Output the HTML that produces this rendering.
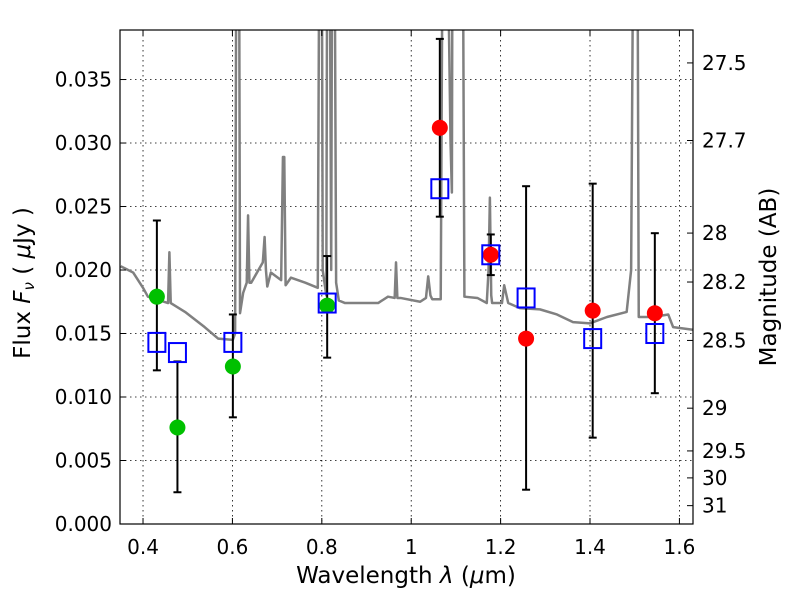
<!DOCTYPE html>
<html><head><meta charset="utf-8"><style>
html,body{margin:0;padding:0;background:#fff;}
svg text{font-family:"DejaVu Sans","Liberation Sans",sans-serif;}
</style></head><body>
<svg id="chart" width="800" height="600" viewBox="0 0 800 600" xmlns="http://www.w3.org/2000/svg">
<defs><clipPath id="plotclip"><rect x="120" y="30" width="573" height="494"/></clipPath></defs>
<g id="grid"></g>
<g id="spec" clip-path="url(#plotclip)"></g>
<g id="marks"></g>
<rect x="120" y="30" width="573" height="494" fill="none" stroke="#000" stroke-width="1.2"/>
<g id="axes"></g>
<text x="406" y="583" font-size="23" text-anchor="middle">Wavelength  <tspan font-style="italic">λ</tspan> (<tspan font-style="italic">μ</tspan>m)</text>
<text transform="translate(30,283) rotate(-90)" font-size="23" text-anchor="middle">Flux  <tspan font-style="italic">F</tspan><tspan font-style="italic" font-size="15" dy="4">ν</tspan><tspan dy="-4">  ( </tspan><tspan font-style="italic">μ</tspan>Jy )</text>
<text transform="translate(776,277) rotate(-90)" font-size="23" text-anchor="middle">Magnitude (AB)</text>
</svg>
<script>
const xTicks=[0.4,0.6,0.8,1.0,1.2,1.4,1.6];
const xTickLabels=["0.4","0.6","0.8","1","1.2","1.4","1.6"];
const yTicks=[0,0.005,0.010,0.015,0.020,0.025,0.030,0.035];
const yTickLabels=["0.000","0.005","0.010","0.015","0.020","0.025","0.030","0.035"];
const magTicks=[27.5,27.7,28,28.2,28.5,29,29.5,30,31];
const magTickLabels=["27.5","27.7","28","28.2","28.5","29","29.5","30","31"];
const specWave=[0.350,0.378,0.400,0.411,0.456,0.459,0.462,0.494,0.538,0.568,0.601,0.606,0.610,0.614,0.617,0.624,0.632,0.635,0.638,0.642,0.668,0.672,0.675,0.678,0.686,0.709,0.713,0.716,0.719,0.731,0.763,0.791,0.796,0.799,0.802,0.810,0.813,0.816,0.821,0.824,0.827,0.832,0.838,0.852,0.926,0.948,0.963,0.966,0.969,0.976,1.020,1.033,1.038,1.043,1.047,1.066,1.072,1.076,1.088,1.091,1.093,1.095,1.112,1.114,1.119,1.148,1.169,1.173,1.176,1.179,1.181,1.203,1.208,1.217,1.243,1.288,1.326,1.362,1.400,1.438,1.482,1.492,1.499,1.505,1.509,1.541,1.575,1.586,1.630];
const specFlux=[0.0203,0.0198,0.0186,0.0179,0.0174,0.0214,0.0174,0.0167,0.0155,0.0146,0.0145,0.0150,0.0600,0.0600,0.0166,0.0182,0.0190,0.0243,0.0190,0.0190,0.0206,0.0226,0.0200,0.0187,0.0198,0.0192,0.0289,0.0289,0.0188,0.0194,0.0190,0.0186,0.0600,0.0600,0.0200,0.0180,0.0600,0.0600,0.0200,0.0600,0.0600,0.0190,0.0176,0.0174,0.0174,0.0179,0.0178,0.0206,0.0178,0.0178,0.0175,0.0178,0.0195,0.0180,0.0177,0.0177,0.0600,0.0600,0.0300,0.0261,0.0600,0.0600,0.0600,0.0600,0.0179,0.0178,0.0174,0.0200,0.0257,0.0180,0.0174,0.0174,0.0188,0.0174,0.0170,0.0169,0.0165,0.0159,0.0158,0.0163,0.0167,0.0200,0.0600,0.0600,0.0163,0.0163,0.0165,0.0155,0.0153];
const obsWave=[0.431,0.477,0.601,0.812,1.064,1.178,1.257,1.406,1.545];
const obsFlux=[0.0179,0.0076,0.0124,0.0172,0.0312,0.0212,0.0146,0.0168,0.0166];
const obsErrLow=[0.0121,0.0025,0.0084,0.0131,0.0242,0.0196,0.0027,0.0068,0.0103];
const obsErrHigh=[0.0239,0.0128,0.0165,0.0211,0.0382,0.0228,0.0266,0.0268,0.0229];
const obsColor=["#00c000","#00c000","#00c000","#00c000","red","red","red","red","red"];
const modelFlux=[0.0143,0.0135,0.0143,0.0174,0.0264,0.0212,0.0178,0.0146,0.0150];

const NS="http://www.w3.org/2000/svg";
const X0=120,X1=693,Y0=30,Y1=524;
const xMin=0.3485,xMax=1.6304,yMin=0,yMax=0.0389;
function xs(v){return X0+(v-xMin)/(xMax-xMin)*(X1-X0);}
function ys(v){return Y1-(v-yMin)/(yMax-yMin)*(Y1-Y0);}
function mk(tag,attrs,parent){const e=document.createElementNS(NS,tag);for(const k in attrs)e.setAttribute(k,attrs[k]);parent.appendChild(e);return e;}
const grid=document.getElementById('grid'),axes=document.getElementById('axes');
xTicks.forEach((t,i)=>{const x=xs(t);
 const g=mk('line',{x1:x,x2:x,y1:Y0,y2:Y1,stroke:'#000','stroke-width':0.8,'stroke-dasharray':'1.5,3.5'},grid);
 
 mk('line',{x1:x,x2:x,y1:Y1,y2:Y1-6,stroke:'#000'},axes);mk('line',{x1:x,x2:x,y1:Y0,y2:Y0+6,stroke:'#000'},axes);
 const tx=mk('text',{x:x,y:554,'font-size':20,'text-anchor':'middle'},axes);tx.textContent=xTickLabels[i];
 });
yTicks.forEach((t,i)=>{const y=ys(t);
 if(i>0){const g=mk('line',{x1:X0,x2:X1,y1:y,y2:y,stroke:'#000','stroke-width':0.8,'stroke-dasharray':'1.5,3.5'},grid);
 }
 mk('line',{x1:X0,x2:X0+6,y1:y,y2:y,stroke:'#000'},axes);
 const tx=mk('text',{x:112,y:y+7,'font-size':20,'text-anchor':'end'},axes);tx.textContent=yTickLabels[i];
 });
magTicks.forEach((m,i)=>{const f=Math.pow(10,(23.9-m)/2.5);const y=ys(f);
 mk('line',{x1:X1,x2:X1-6,y1:y,y2:y,stroke:'#000'},axes);
 const tx=mk('text',{x:702,y:y+7,'font-size':20,'text-anchor':'start'},axes);tx.textContent=magTickLabels[i];
 });
const spec=document.getElementById('spec');
const pl=mk('polyline',{points:specWave.map((w,i)=>xs(w)+','+ys(specFlux[i])).join(' '),fill:'none',stroke:'#808080','stroke-width':2.5,'stroke-linejoin':'round'},spec);

const marks=document.getElementById('marks');
obsWave.forEach((w,i)=>{const x=xs(w);
 const eb=mk('g',{},marks);
 mk('line',{x1:x,x2:x,y1:ys(obsErrLow[i]),y2:ys(obsErrHigh[i]),stroke:'#000','stroke-width':2},eb);
 mk('line',{x1:x-4,x2:x+4,y1:ys(obsErrLow[i]),y2:ys(obsErrLow[i]),stroke:'#000','stroke-width':2},eb);
 mk('line',{x1:x-4,x2:x+4,y1:ys(obsErrHigh[i]),y2:ys(obsErrHigh[i]),stroke:'#000','stroke-width':2},eb);
});
obsWave.forEach((w,i)=>{const x=xs(w);
 const c=mk('circle',{cx:x,cy:ys(obsFlux[i]),r:8,fill:obsColor[i]},marks);
 
 const s=mk('rect',{x:x-8.5,y:ys(modelFlux[i])-9.5,width:17,height:19,fill:'none',stroke:'#0000ff','stroke-width':2},marks);
 
});
</script>
</body></html>
